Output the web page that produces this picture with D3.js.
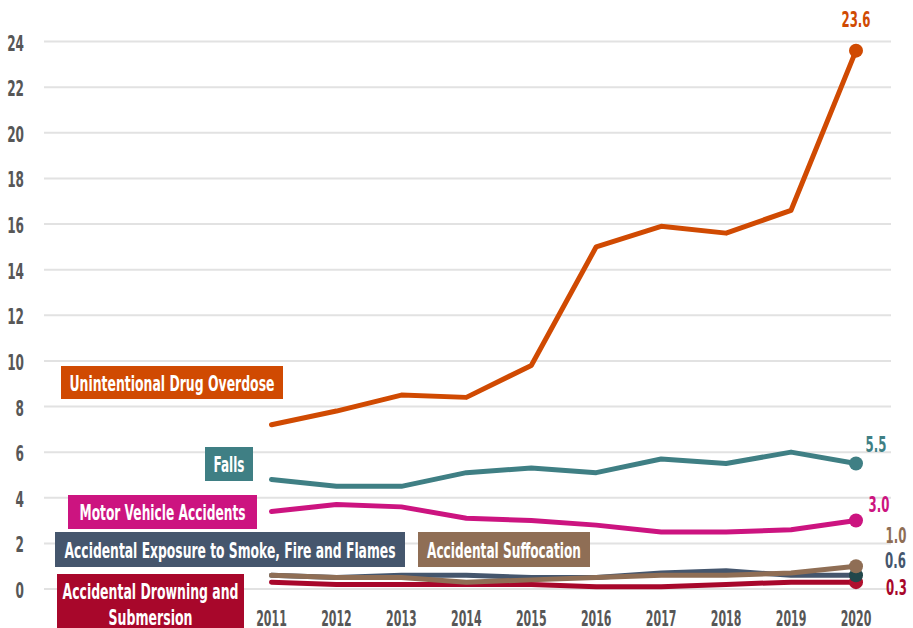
<!DOCTYPE html>
<html><head><meta charset="utf-8">
<script src="https://cdn.jsdelivr.net/npm/d3@7/dist/d3.min.js"></script>
<style>
body{margin:0;background:#fff;}
svg text{font-family:"DejaVu Sans",sans-serif;font-weight:bold;}
</style></head>
<body><svg id="c" width="913" height="628"></svg>
<script>
const years = [2011,2012,2013,2014,2015,2016,2017,2018,2019,2020];
const yTicks = [0,2,4,6,8,10,12,14,16,18,20,22,24];
const drugOverdose = [7.2,7.8,8.5,8.4,9.8,15.0,15.9,15.6,16.6,23.6];
const falls = [4.8,4.5,4.5,5.1,5.3,5.1,5.7,5.5,6.0,5.5];
const motorVehicle = [3.4,3.7,3.6,3.1,3.0,2.8,2.5,2.5,2.6,3.0];
const smokeFire = [0.6,0.5,0.6,0.6,0.5,0.5,0.7,0.8,0.6,0.6];
const suffocation = [0.6,0.5,0.5,0.3,0.4,0.5,0.6,0.6,0.7,1.0];
const drowning = [0.3,0.2,0.2,0.2,0.2,0.1,0.1,0.2,0.3,0.3];
const seriesNames = ["Unintentional Drug Overdose","Falls","Motor Vehicle Accidents","Accidental Exposure to Smoke, Fire and Flames","Accidental Suffocation","Accidental Drowning and Submersion"];
const endLabels = ["23.6","5.5","3.0","0.6","1.0","0.3"];

const series = [
  {name:seriesNames[0], values:drugOverdose, color:"#D04A02", dot:"#D04A02", end:endLabels[0], lx:856, ly:27,
   box:{x:61,y:366,w:222,h:33}, tw:[205]},
  {name:seriesNames[1], values:falls, color:"#3F7F84", dot:"#3F7F84", end:endLabels[1], lx:876, ly:452,
   box:{x:205,y:447,w:48,h:34}, tw:[31]},
  {name:seriesNames[2], values:motorVehicle, color:"#CC1480", dot:"#CC1480", end:endLabels[2], lx:879, ly:512,
   box:{x:68,y:495,w:189,h:34}, tw:[166]},
  {name:seriesNames[3], values:smokeFire, color:"#45566D", dot:"#22474B", end:endLabels[3], lx:895.5, ly:568,
   box:{x:55,y:532,w:350,h:35}, tw:[331]},
  {name:seriesNames[4], values:suffocation, color:"#8F6E55", dot:"#8F6E55", end:endLabels[4], lx:896, ly:543,
   box:{x:418,y:532,w:172,h:35}, tw:[154]},
  {name:seriesNames[5], values:drowning, color:"#A8072B", dot:"#B0102E", end:endLabels[5], lx:896.5, ly:595,
   box:{x:57,y:574,w:187,h:56}, tw:[176,84], lines:["Accidental Drowning and","Submersion"]}
];

const svg = d3.select("#c");
const y = d3.scaleLinear().domain([0,24]).range([589,41.5]);
const x = d3.scalePoint().domain(years).range([271.5,856]);

function condense(sel, f){
  sel.each(function(){
    const w = this.getComputedTextLength();
    d3.select(this).attr("textLength", w*f).attr("lengthAdjust","spacingAndGlyphs");
  });
}

// gridlines
svg.append("g").selectAll("line").data(yTicks).join("line")
  .attr("x1",44).attr("x2",891)
  .attr("y1",d=>y(d)).attr("y2",d=>y(d))
  .attr("stroke","#e2e2e2").attr("stroke-width",2);

// y labels
svg.append("g").selectAll("text").data(yTicks).join("text")
  .attr("x",24).attr("y",d=>y(d)+9)
  .attr("text-anchor","end").attr("font-size",22).attr("fill","#575757")
  .text(d=>d).call(condense,0.55);

// x labels
svg.append("g").selectAll("text").data(years).join("text")
  .attr("x",d=>x(d)).attr("y",626)
  .attr("text-anchor","middle").attr("font-size",22).attr("fill","#575757")
  .text(d=>d).call(condense,0.5);

const line = d3.line().x((d,i)=>x(years[i])).y(d=>y(d)).curve(d3.curveLinear);

const order = [5,3,4,2,1,0];
order.forEach(k=>{
  const s = series[k];
  svg.append("path").attr("d",line(s.values)).attr("fill","none")
    .attr("stroke",s.color).attr("stroke-width",5)
    .attr("stroke-linecap","round").attr("stroke-linejoin","round");
});
order.forEach(k=>{
  const s = series[k];
  svg.append("circle").attr("cx",x(2020)).attr("cy",y(s.values[9])).attr("r",7).attr("fill",s.dot);
  svg.append("text").attr("x",s.lx).attr("y",s.ly).attr("text-anchor","middle")
    .attr("font-size",21).attr("fill",s.color).text(s.end).call(condense,0.56);
});

// label boxes
series.forEach(s=>{
  const b = s.box;
  svg.append("rect").attr("x",b.x).attr("y",b.y).attr("width",b.w).attr("height",b.h).attr("fill",s.color);
  const lines = s.lines || [s.name];
  lines.forEach((t,i)=>{
    const n = lines.length;
    svg.append("text").attr("x",b.x+b.w/2)
      .attr("y", n===1 ? b.y+b.h/2+8 : b.y+25+i*26)
      .attr("text-anchor","middle").attr("font-size",21).attr("fill","#fff")
      .attr("textLength",s.tw[i]).attr("lengthAdjust","spacingAndGlyphs").text(t);
  });
});
</script></body></html>
